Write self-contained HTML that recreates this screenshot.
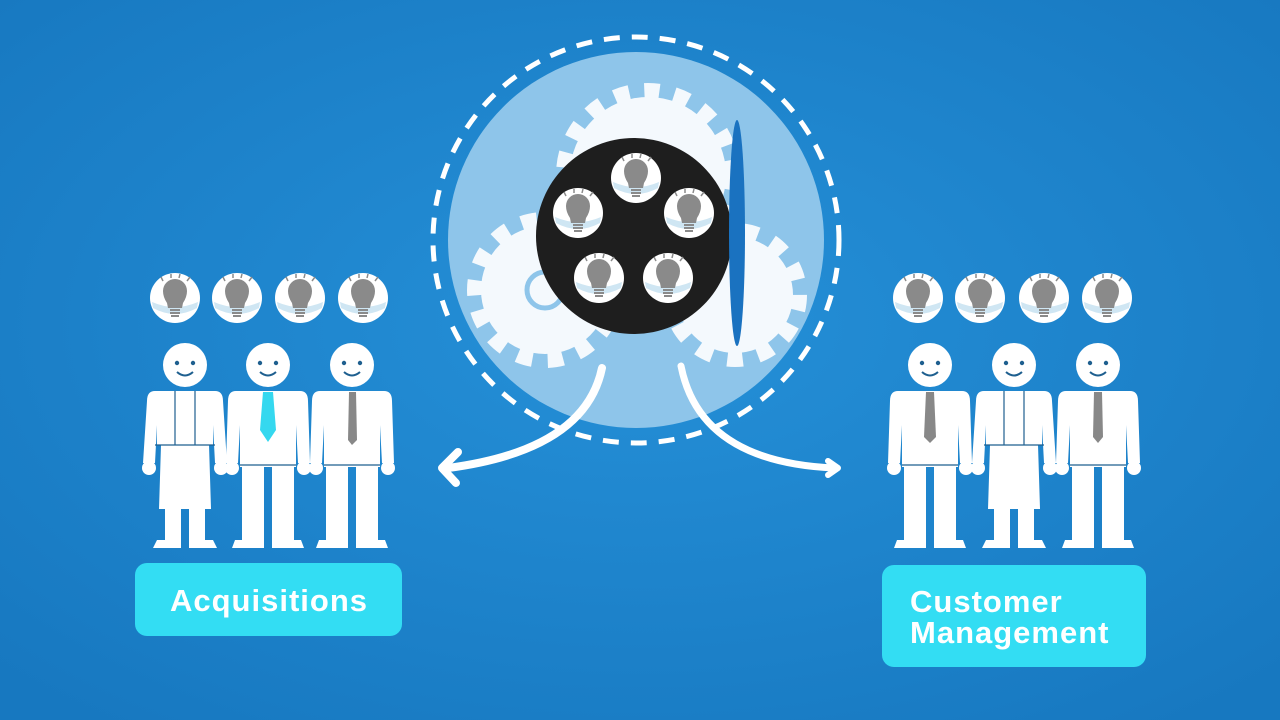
<!DOCTYPE html>
<html><head><meta charset="utf-8"><style>
html,body{margin:0;padding:0;background:#1e86cf;}
svg{display:block}
text{font-family:"Liberation Sans",sans-serif;font-weight:bold;fill:#fff}
</style></head><body>
<svg width="1280" height="720" viewBox="0 0 1280 720">
<defs>
<radialGradient id="bg" cx="50%" cy="45%" r="70%"><stop offset="0" stop-color="#2590d8"/><stop offset="1" stop-color="#1778c0"/></radialGradient>
<g id="bulb">
<circle r="25" fill="#fff"/>
<path d="M-23,4 Q0,14 23,4 L22,10 Q0,22 -22,10Z" fill="#cfe6f3"/>
<path d="M-8,5 Q-12,-1 -12,-7 A12,12 0 1 1 12,-7 Q12,-1 8,5 L7,10 L-7,10Z" fill="#8a8a8a"/>
<rect x="-5" y="11" width="10" height="2" fill="#8a8a8a"/><rect x="-5" y="14" width="10" height="2" fill="#8a8a8a"/><rect x="-4" y="17" width="8" height="2" fill="#8a8a8a"/>
<g stroke="#8a8a8a" stroke-width="1.5"><line x1="-12" y1="-17" x2="-14" y2="-21"/><line x1="-4" y1="-20" x2="-4" y2="-24"/><line x1="4" y1="-20" x2="5" y2="-24"/><line x1="12" y1="-17" x2="15" y2="-21"/></g>
</g>
<g id="man">
<circle cx="0" cy="0" r="22" fill="#fff"/>
<circle cx="-8" cy="-2" r="2.2" fill="#1e5f8f"/><circle cx="8" cy="-2" r="2.2" fill="#1e5f8f"/>
<path d="M-8,7 Q0,14 8,7" stroke="#1e5f8f" stroke-width="2" fill="none"/>
<path d="M-32,26 L32,26 Q40,26 40,36 L42,98 L30,98 L28,60 L28,102 L-28,102 L-28,60 L-30,98 L-42,98 L-40,36 Q-40,26 -32,26Z" fill="#fff"/>
<circle cx="-36" cy="103" r="7" fill="#fff"/><circle cx="36" cy="103" r="7" fill="#fff"/>
<rect x="-26" y="100" width="22" height="75" fill="#fff"/><rect x="4" y="100" width="22" height="75" fill="#fff"/>
<path d="M-33,175 L-4,175 L-4,183 L-36,183Z M4,175 L33,175 L36,183 L4,183Z" fill="#fff"/>
<line x1="-28" y1="100" x2="28" y2="100" stroke="#1e5f8f" stroke-width="1.2"/>
</g>
<g id="woman">
<circle cx="0" cy="0" r="22" fill="#fff"/>
<circle cx="-8" cy="-2" r="2.2" fill="#1e5f8f"/><circle cx="8" cy="-2" r="2.2" fill="#1e5f8f"/>
<path d="M-8,7 Q0,14 8,7" stroke="#1e5f8f" stroke-width="2" fill="none"/>
<path d="M-30,26 L30,26 Q38,26 38,36 L42,98 L30,98 L28,60 L28,80 L-28,80 L-28,60 L-30,98 L-42,98 L-38,36 Q-38,26 -30,26Z" fill="#fff"/>
<circle cx="-36" cy="103" r="7" fill="#fff"/><circle cx="36" cy="103" r="7" fill="#fff"/>
<path d="M-24,80 L24,80 L26,144 L-26,144Z" fill="#fff"/>
<rect x="-20" y="142" width="16" height="35" fill="#fff"/><rect x="4" y="142" width="16" height="35" fill="#fff"/>
<path d="M-28,175 L-4,175 L-4,183 L-32,183Z M4,175 L28,175 L32,183 L4,183Z" fill="#fff"/>
<path d="M-10,26 L-10,80 M10,26 L10,80 M-30,80 L30,80" stroke="#1e5f8f" stroke-width="1.2" fill="none"/>
</g>
</defs>
<rect width="1280" height="720" fill="url(#bg)"/>

<circle cx="636" cy="240" r="203" fill="none" stroke="#fff" stroke-width="5" stroke-dasharray="16 12"/>
<circle cx="636" cy="240" r="188" fill="#8ec5ea"/>
<g fill="#f4f9fd">
<circle cx="648" cy="175" r="78" stroke="#f4f9fd" stroke-width="28" stroke-dasharray="14 14"/>
<circle cx="545" cy="290" r="64" stroke="#f4f9fd" stroke-width="28" stroke-dasharray="14 14"/>
<circle cx="735" cy="295" r="58" stroke="#f4f9fd" stroke-width="28" stroke-dasharray="14 14"/>
</g>
<circle cx="545" cy="290" r="18" fill="none" stroke="#8ec5ea" stroke-width="5"/>
<circle cx="634" cy="236" r="98" fill="#1e1e1e"/>
<use href="#bulb" x="636" y="178"/>
<use href="#bulb" x="578" y="213"/>
<use href="#bulb" x="689" y="213"/>
<use href="#bulb" x="599" y="278"/>
<use href="#bulb" x="668" y="278"/>
<ellipse cx="737" cy="233" rx="8" ry="113" fill="#1a72c0"/>

<path d="M602,368 Q585,450 448,468" stroke="#fff" stroke-width="8" fill="none" stroke-linecap="round"/>
<path d="M458,452 L442,468 L456,483" stroke="#fff" stroke-width="8" fill="none" stroke-linecap="round" stroke-linejoin="round"/>
<path d="M681,366 Q700,462 834,468" stroke="#fff" stroke-width="7" fill="none" stroke-linecap="round"/>
<path d="M828,461 L838,468 L828,475" stroke="#fff" stroke-width="6" fill="none" stroke-linecap="round" stroke-linejoin="round"/>

<use href="#bulb" x="175" y="298"/><use href="#bulb" x="237" y="298"/><use href="#bulb" x="300" y="298"/><use href="#bulb" x="363" y="298"/>
<use href="#woman" x="185" y="365"/>
<use href="#man" x="268" y="365"/>
<use href="#man" x="352" y="365"/>
<path d="M263,392 L273,392 L276,430 L268,442 L260,430Z" fill="#35d8ef"/>
<path d="M349,392 L356,392 L357,440 L352,445 L348,440Z" fill="#888"/>
<rect x="135" y="563" width="267" height="73" rx="12" fill="#33ddf3"/>
<text x="269" y="611" font-size="31" letter-spacing="1" text-anchor="middle">Acquisitions</text>

<use href="#bulb" x="918" y="298"/><use href="#bulb" x="980" y="298"/><use href="#bulb" x="1044" y="298"/><use href="#bulb" x="1107" y="298"/>
<use href="#man" x="930" y="365"/>
<use href="#woman" x="1014" y="365"/>
<use href="#man" x="1098" y="365"/>
<path d="M926,392 L934,392 L936,437 L930,443 L924,437Z" fill="#888"/>
<path d="M1094,392 L1102,392 L1103,437 L1098,443 L1093,437Z" fill="#888"/>
<rect x="882" y="565" width="264" height="102" rx="12" fill="#33ddf3"/>
<text x="910" y="612" font-size="31" letter-spacing="1">Customer</text>
<text x="910" y="643" font-size="31" letter-spacing="1">Management</text>
</svg>
</body></html>
